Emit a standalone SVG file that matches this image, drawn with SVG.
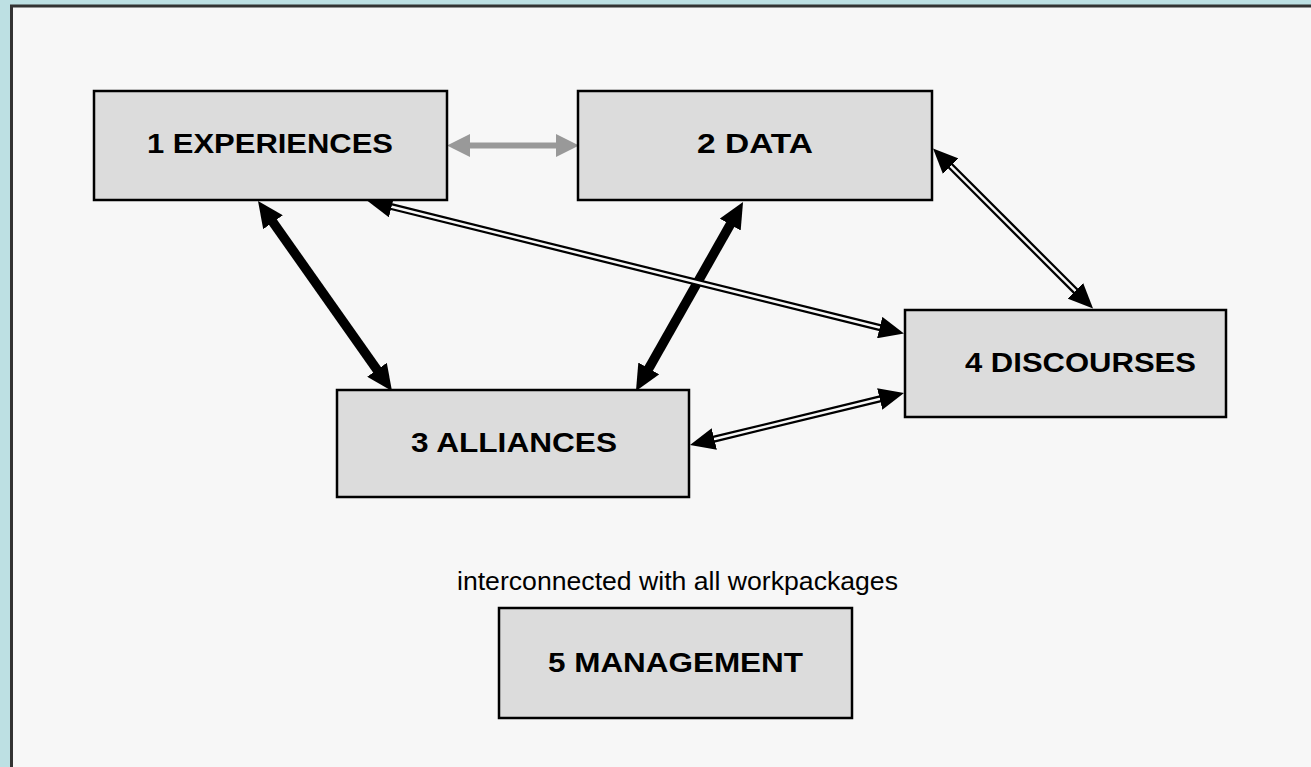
<svg xmlns="http://www.w3.org/2000/svg" width="1311" height="767" viewBox="0 0 1311 767">
  <style>
    .box { fill: #dcdcdc; stroke: #000; stroke-width: 2.5; }
    .lbl { font-family: "Liberation Sans", Arial, sans-serif; font-weight: bold; font-size: 27.5px; fill: #000; text-anchor: middle; }
    .note { font-family: "Liberation Sans", Arial, sans-serif; font-size: 25px; fill: #000; }
    .thick { stroke: #000; stroke-width: 9.5; fill: none; }
    .dbl-out { stroke: #000; stroke-width: 7; fill: none; }
    .dbl-in { stroke: #f7f7f7; stroke-width: 2.5; fill: none; }
  </style>
  <defs>
    <marker id="head" markerUnits="userSpaceOnUse" viewBox="0 0 25 22" refX="4" refY="11" markerWidth="25" markerHeight="22" orient="auto-start-reverse">
      <path d="M0,0 L25,11 L0,22 z" fill="#000"/>
    </marker>
    <marker id="bighead" markerUnits="userSpaceOnUse" viewBox="0 0 26 24" refX="4" refY="12" markerWidth="26" markerHeight="24" orient="auto-start-reverse">
      <path d="M0,0 L26,12 L0,24 z" fill="#000"/>
    </marker>
  </defs>
  <rect x="0" y="0" width="1311" height="767" fill="#bde0e3"/>
  <rect x="11.5" y="6" width="1320" height="780" fill="#f7f7f7" stroke="#333" stroke-width="3"/>

  <g id="connectors">
    <polygon points="447,145.5 470,134 470,142.5 556,142.5 556,134 579,145.5 556,157 556,148.5 470,148.5 470,157" fill="#999"/>
    <line class="thick" x1="270.7" y1="219.0" x2="379.3" y2="373.0" marker-start="url(#bighead)" marker-end="url(#bighead)"/>
    <line class="thick" x1="732.2" y1="221.1" x2="646.8" y2="371.9" marker-start="url(#bighead)" marker-end="url(#bighead)"/>
    <line class="dbl-out" x1="947.9" y1="163.4" x2="1078.2" y2="293.7"/>
    <line class="dbl-in" x1="947.9" y1="163.4" x2="1078.2" y2="293.7" marker-start="url(#head)" marker-end="url(#head)"/>
    <line class="dbl-out" x1="387.7" y1="205.7" x2="883.6" y2="328.5"/>
    <line class="dbl-in" x1="387.7" y1="205.7" x2="883.6" y2="328.5" marker-start="url(#head)" marker-end="url(#head)"/>
    <line class="dbl-out" x1="710.4" y1="440.0" x2="883.6" y2="398.0"/>
    <line class="dbl-in" x1="710.4" y1="440.0" x2="883.6" y2="398.0" marker-start="url(#head)" marker-end="url(#head)"/>
  </g>

  <g id="node1">
    <rect class="box" x="94" y="91" width="353" height="109"/>
    <text class="lbl" x="270" y="153" textLength="246" lengthAdjust="spacingAndGlyphs">1 EXPERIENCES</text>
  </g>
  <g id="node2">
    <rect class="box" x="578" y="91" width="354" height="109"/>
    <text class="lbl" x="755" y="153" textLength="116" lengthAdjust="spacingAndGlyphs">2 DATA</text>
  </g>
  <g id="node3">
    <rect class="box" x="337" y="390" width="352" height="107"/>
    <text class="lbl" x="514" y="452" textLength="206" lengthAdjust="spacingAndGlyphs">3 ALLIANCES</text>
  </g>
  <g id="node4">
    <rect class="box" x="905" y="310" width="321" height="107"/>
    <text class="lbl" x="1080.5" y="372" textLength="231" lengthAdjust="spacingAndGlyphs">4 DISCOURSES</text>
  </g>
  <g id="node5">
    <rect class="box" x="499" y="608" width="353" height="110"/>
    <text class="lbl" x="675.5" y="672" textLength="255" lengthAdjust="spacingAndGlyphs">5 MANAGEMENT</text>
  </g>
  <text class="note" x="457" y="590" textLength="441" lengthAdjust="spacingAndGlyphs">interconnected with all workpackages</text>
</svg>
